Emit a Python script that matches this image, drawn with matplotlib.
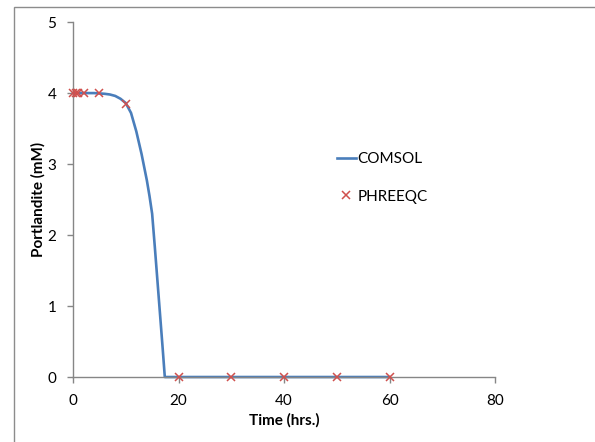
import matplotlib.pyplot as plt
import numpy as np
from matplotlib.patches import Rectangle

plt.rcParams['font.family'] = ['Lato', 'DejaVu Sans']

# COMSOL curve (portlandite vs time)
t_comsol = [0, 2, 4, 6, 7, 8, 9, 10, 11, 12, 13, 14, 14.5, 15, 15.5, 16, 16.5, 17, 17.4,
            20, 30, 40, 50, 60]
v_comsol = [4.0, 4.0, 4.0, 3.99, 3.98, 3.96, 3.92, 3.86, 3.72, 3.46, 3.14, 2.77, 2.55, 2.3,
            1.84, 1.36, 0.88, 0.4, 0.0, 0.0, 0.0, 0.0, 0.0, 0.0]

# PHREEQC points
t_phreeqc = [0, 0.5, 1, 2, 5, 10, 20, 30, 40, 50, 60]
v_phreeqc = [4.0, 4.0, 4.0, 4.0, 4.0, 3.85, 0.0, 0.0, 0.0, 0.0, 0.0]

x_ticks = [0, 20, 40, 60, 80]
y_ticks = [0, 1, 2, 3, 4, 5]

fig = plt.figure(figsize=(5.95, 4.42), dpi=100)
ax = fig.add_axes([0.1227, 0.147, 0.7093, 0.803])

ax.plot(t_comsol, v_comsol, color='#4A7EBB', lw=1.9, label='COMSOL', clip_on=False)
ax.plot(t_phreeqc, v_phreeqc, ls='none', marker='x', ms=5.5, mew=1.1,
        color='#D0504D', label='PHREEQC', clip_on=False, zorder=3)

ax.set_xlim(0, 80)
ax.set_ylim(0, 5)
ax.set_xticks(x_ticks)
ax.set_yticks(y_ticks)

for s in ['top', 'right']:
    ax.spines[s].set_visible(False)
for s in ['left', 'bottom']:
    ax.spines[s].set_color('#868686')
    ax.spines[s].set_linewidth(1.0)
ax.tick_params(direction='out', length=4, width=1.0, color='#868686',
               labelsize=11, pad=8, labelcolor='black')

ax.set_xlabel('Time (hrs.)', fontsize=11, fontweight='bold', labelpad=4)
ax.set_ylabel('Portlandite (mM)', fontsize=11, fontweight='bold', labelpad=1)

ax.legend(loc='upper left', bbox_to_anchor=(0.566, 0.656), bbox_transform=fig.transFigure,
          frameon=False, fontsize=11, handlelength=1.25, handletextpad=0.1,
          labelspacing=1.55, borderpad=0, borderaxespad=0)

# outer chart border
fig.patches.append(Rectangle((14 / 595, -0.1), 1.2, (442 - 7) / 442 + 0.1,
                             transform=fig.transFigure, fill=False,
                             edgecolor='#8C8C8C', lw=1.0))

fig.savefig('out.png', dpi=100)
